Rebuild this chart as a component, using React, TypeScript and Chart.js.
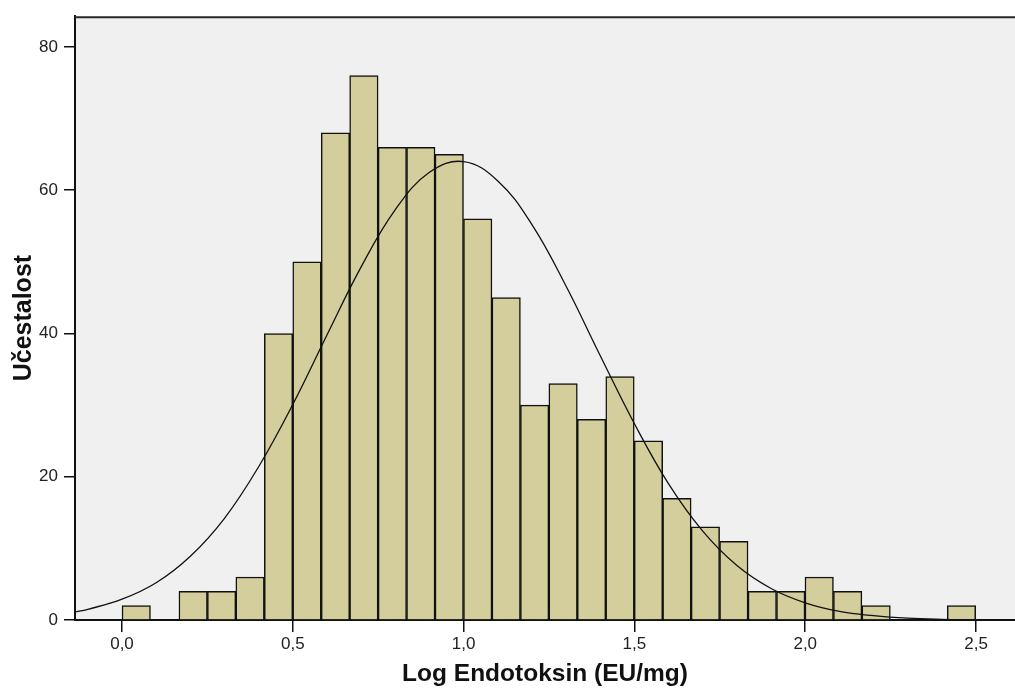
import React, { useEffect, useRef } from "react";
import { Chart, registerables } from "chart.js";

Chart.register(...registerables);

// Histogram bins (Log Endotoksin, EU/mg)
const binStart = 0;
const binWidth = 0.0833;
const binCounts = [2, 0, 4, 4, 6, 40, 50, 68, 76, 66, 66, 65, 56, 45, 30, 33, 28, 34, 25, 17, 13, 11, 4, 4, 6, 4, 2, 0, 0, 2];

// Fitted normal curve
const curveX = [-0.14, -0.1, 0.0, 0.1, 0.2, 0.3, 0.4, 0.5, 0.6, 0.7, 0.8, 0.9, 1.0, 1.1, 1.2, 1.3, 1.4, 1.5, 1.6, 1.7, 1.8, 1.9, 2.0, 2.1, 2.2, 2.3, 2.4, 2.5];
const curveY = [1.1, 1.5, 2.9, 5.2, 8.9, 14.2, 21.4, 30.1, 39.8, 49.3, 57.3, 62.5, 64.0, 61.3, 55.2, 46.6, 36.9, 27.4, 19.0, 12.4, 7.6, 4.4, 2.4, 1.2, 0.6, 0.25, 0.1, 0.04];

// Axes
const xTicks = [0, 0.5, 1.0, 1.5, 2.0, 2.5];
const xTickLabels = ["0,0", "0,5", "1,0", "1,5", "2,0", "2,5"];
const yTicks = [0, 20, 40, 60, 80];
const xMin = -0.1376;
const xMax = 2.614;
const yMax = 84.3;

const xTitle = "Log Endotoksin (EU/mg)";
const yTitle = "Učestalost";

const FONT = "'Liberation Sans', Arial, sans-serif";

export default function App() {
  const ref = useRef<HTMLCanvasElement | null>(null);

  useEffect(() => {
    if (!ref.current) return;
    const barData = binCounts.map((c, i) => ({ x: binStart + binWidth * i + binWidth / 2, y: c }));
    const lineData = curveX.map((x, i) => ({ x, y: curveY[i] }));

    const bgPlugin = {
      id: "bg",
      beforeDraw(chart: any) {
        const { ctx, chartArea } = chart;
        ctx.save();
        ctx.fillStyle = "#f0f0f0";
        ctx.fillRect(chartArea.left, chartArea.top, chartArea.right - chartArea.left, chartArea.bottom - chartArea.top);
        ctx.restore();
      },
      afterDraw(chart: any) {
        const { ctx, chartArea } = chart;
        ctx.save();
        ctx.strokeStyle = "#2a2a2a";
        ctx.lineWidth = 2;
        ctx.beginPath();
        ctx.moveTo(chartArea.left, chartArea.top + 1);
        ctx.lineTo(chartArea.right, chartArea.top + 1);
        ctx.stroke();
        ctx.restore();
      },
    };

    const chart = new Chart(ref.current, {
      type: "bar",
      data: {
        datasets: [
          {
            type: "line",
            data: lineData,
            borderColor: "#111",
            borderWidth: 1.3,
            pointRadius: 0,
            tension: 0.4,
            fill: false,
            order: 0,
          } as any,
          {
            type: "bar",
            data: barData,
            backgroundColor: "#d3ce9b",
            borderColor: "#111",
            borderWidth: 1.5,
            barPercentage: 1,
            categoryPercentage: 1,
            order: 1,
          } as any,
        ],
      },
      options: {
        animation: false,
        responsive: false,
        layout: { padding: { top: 14, left: 0, right: 0, bottom: 0 } },
        plugins: { legend: { display: false }, tooltip: { enabled: false } },
        scales: {
          x: {
            type: "linear",
            min: xMin,
            max: xMax,
            offset: false,
            grid: { offset: false, drawOnChartArea: false, drawTicks: true, tickLength: 12, color: "#111", lineWidth: 1.5 },
            border: { display: true, color: "#111", width: 2 },
            afterBuildTicks: (scale: any) => {
              scale.ticks = xTicks.map((v) => ({ value: v }));
            },
            afterFit: (scale: any) => {
              scale.height = 71;
            },
            ticks: {
              padding: 2,
              color: "#222",
              font: { family: FONT, size: 17 },
              callback: (v: any) => {
                const i = xTicks.indexOf(Number(v));
                return i >= 0 ? xTickLabels[i] : "";
              },
            },
            title: {
              display: true,
              text: xTitle,
              color: "#111",
              font: { family: FONT, size: 24.5, weight: "bold" },
              padding: { top: 0, bottom: 2 },
            },
          },
          y: {
            type: "linear",
            min: 0,
            max: yMax,
            grid: { drawOnChartArea: false, drawTicks: true, tickLength: 11, color: "#111", lineWidth: 1.5 },
            border: { display: true, color: "#111", width: 2 },
            afterBuildTicks: (scale: any) => {
              scale.ticks = yTicks.map((v) => ({ value: v }));
            },
            afterFit: (scale: any) => {
              scale.width = 75;
            },
            ticks: {
              padding: 6,
              color: "#222",
              font: { family: FONT, size: 17 },
            },
            title: {
              display: true,
              text: yTitle,
              color: "#111",
              font: { family: FONT, size: 25, weight: "bold" },
              padding: { top: 9, bottom: 0 },
            },
          },
        },
      },
      plugins: [bgPlugin],
    });
    return () => chart.destroy();
  }, []);

  return (
    <div style={{ position: "fixed", left: 0, top: 0, width: 1015, height: 691, background: "#fff" }}>
      <canvas ref={ref} width={1015} height={691} style={{ display: "block" }} />
    </div>
  );
}
